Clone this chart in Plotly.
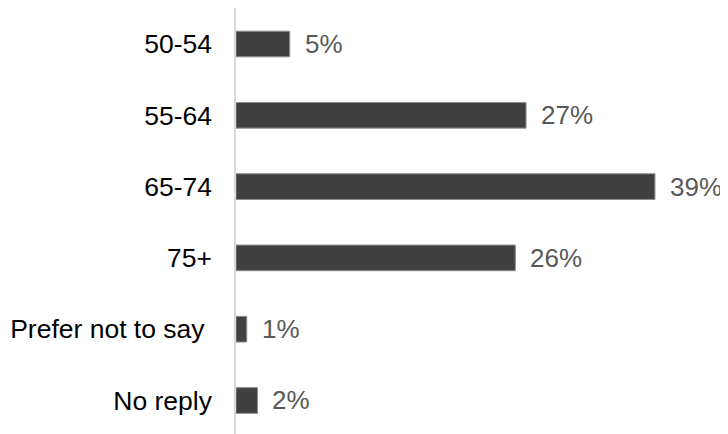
import plotly.graph_objects as go

categories = ["50-54", "55-64", "65-74", "75+", "Prefer not to say", "No reply"]
tick_labels = ["50-54", "55-64", "65-74", "75+", "Prefer not to say\u00a0", "No reply"]
values = [5, 27, 39, 26, 1, 2]
labels = ["5%", "27%", "39%", "26%", "1%", "2%"]

fig = go.Figure()
fig.add_trace(go.Bar(
    x=values, y=categories, orientation="h",
    marker=dict(color="#404040", line=dict(color="#8c8c8c", width=1)),
    width=0.36, hoverinfo="skip",
))

for c, v, t in zip(categories, values, labels):
    fig.add_annotation(x=v, y=c, text=t, xanchor="left", yanchor="middle",
                       xshift=13, showarrow=False,
                       font=dict(family="Liberation Sans, Arial", size=26, color="#595959"))

fig.update_layout(
    width=720, height=426,
    margin=dict(l=228, r=0, t=0, b=0),
    paper_bgcolor="white", plot_bgcolor="white",
    showlegend=False,
    xaxis=dict(range=[0, 45.8], visible=False, showgrid=False, zeroline=False),
    yaxis=dict(type="category", range=[5.47, -0.505], showgrid=False, zeroline=False,
               showline=True, linecolor="#d9d9d9", linewidth=1.5,
               ticks="", ticklabelstandoff=17,
               tickmode="array", tickvals=categories, ticktext=tick_labels,
               tickfont=dict(family="Liberation Sans, Arial", size=26.5, color="#000000")),
)

fig.write_html("out.html")
